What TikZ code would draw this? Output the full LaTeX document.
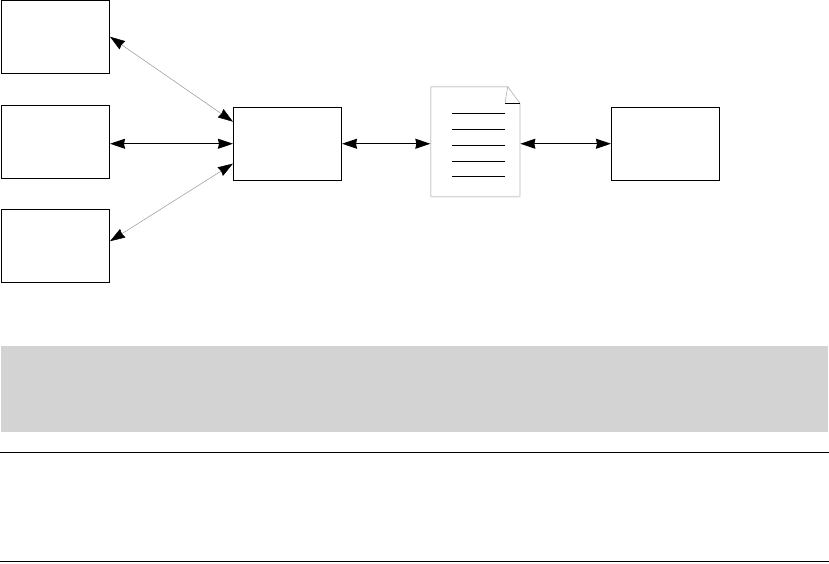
\documentclass[tikz,border=0pt]{standalone}
\usepackage{tikz}
\usetikzlibrary{arrows.meta,positioning,calc}

\definecolor{bandgray}{HTML}{D3D3D3}
\definecolor{docgray}{HTML}{D8D8D8}

\tikzset{
  box/.style={draw=black,line width=0.6pt,minimum width=2.16cm,minimum height=1.46cm,inner sep=0pt},
  link/.style={line width=0.6pt,{Stealth[black,length=0.3cm,width=0.2cm,inset=0.02cm]}-{Stealth[black,length=0.3cm,width=0.2cm,inset=0.02cm]}},
  thinlink/.style={link,draw=gray!80,line width=0.3pt}
}

\begin{document}
\begin{tikzpicture}
\useasboundingbox (0,0) rectangle (16.58,11.26);

\node[box] (src1) at (1.11,10.525) {};
\node[box] (src2) at (1.11,8.425) {};
\node[box] (src3) at (1.11,6.34) {};
\node[box] (hub) at (5.75,8.385) {};
\node[box] (sink) at (13.31,8.385) {};
\node[minimum width=1.786cm,minimum height=2.2cm,inner sep=0pt] (doc) at (9.507,8.426) {};

% sheet
\draw[docgray,line width=0.8pt,rounded corners=0.5pt] (10.154,9.526) -- (8.614,9.526) -- (8.614,7.326) -- (10.4,7.326) -- (10.4,9.194);
\draw[gray!70,line width=0.3pt] (10.1,9.194) -- (10.154,9.526) -- (10.4,9.194);
\draw[line width=0.6pt] (10.1,9.194) -- (10.4,9.194);
\foreach \y in {8.99,8.67,8.35,8.03,7.73}
  \draw[line width=0.6pt] (9.04,\y) -- (10.1,\y);

% connectors
\draw[thinlink] (src1.east) -- (hub.158);
\draw[link] (hub.west -| src2.east) -- (hub.west);
\draw[thinlink] (src3.5) -- (hub.200);
\draw[link] (hub.east) -- (hub.east -| doc.west);
\draw[link] (sink.west -| doc.east) -- (sink.west);

% bottom band and rules
\fill[bandgray] (0.02,4.34) rectangle (16.56,2.62);
\draw[line width=0.6pt] (0,2.21) -- (16.58,2.21);
\draw[line width=0.6pt] (0,0.035) -- (16.58,0.035);
\end{tikzpicture}
\end{document}
